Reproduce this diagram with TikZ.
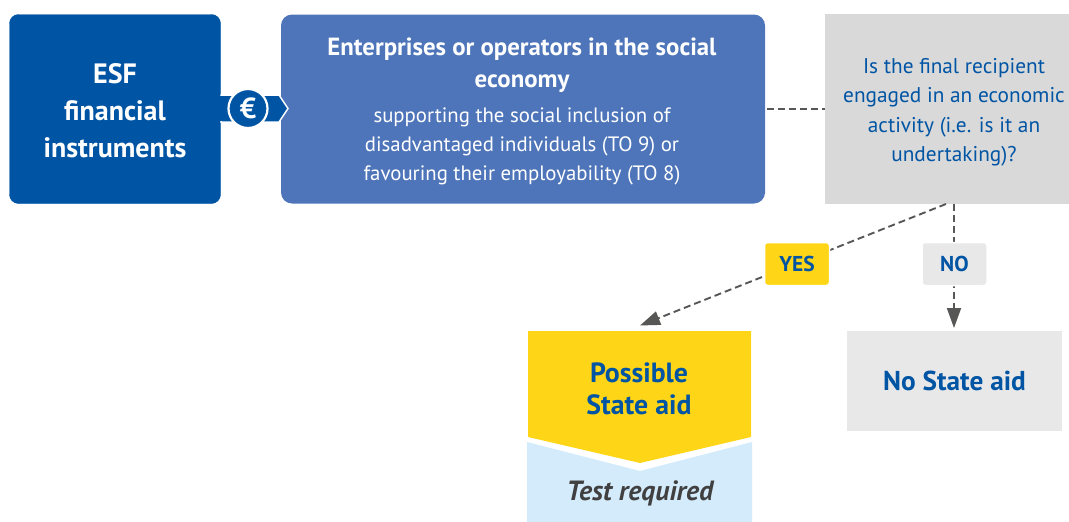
\documentclass[tikz,border=0pt]{standalone}
\usepackage{fontspec}
\setmainfont{PT Sans}
\usetikzlibrary{arrows.meta}
\definecolor{esfblue}{HTML}{0054A4}
\definecolor{midblue}{HTML}{4E75B9}
\definecolor{qgray}{HTML}{D9D9D9}
\definecolor{lgray}{HTML}{E8E8E8}
\definecolor{eyellow}{HTML}{FFD617}
\definecolor{lblue}{HTML}{D3EBFB}
\definecolor{dash}{HTML}{575756}
\tikzset{
  x=1pt,y=-1pt,
  conn/.style={draw=dash,line width=1.9pt,dash pattern=on 7pt off 4pt},
  arrowconn/.style={conn,-{Triangle[length=20pt,width=14pt,fill=dash]}},
  tag/.style={rounded corners=3pt,minimum width=65pt,minimum height=43pt,inner sep=0pt,draw=white,line width=1.5pt,font=\fontsize{21.5}{21.5}\selectfont\bfseries,text=esfblue}
}
\begin{document}
\begin{tikzpicture}
\useasboundingbox (0,0) rectangle (1069,522);
\node[fill=esfblue,draw=esfblue,rounded corners=9pt,minimum width=211pt,minimum height=189pt,inner sep=0pt] (esf) at (115,109) {};
\node[text=white,align=center,inner sep=0pt,font=\fontsize{28}{37}\selectfont\bfseries] (esft) at (115,111) {ESF\\financial\\instruments};
\node[fill=midblue,rounded corners=11pt,minimum width=484pt,minimum height=189pt,inner sep=0pt] (ent) at (523,109) {};
% connector tab with euro
\fill[esfblue,draw=white,line width=1.5pt] (221,95) -- (279,95) -- (288,108.5) -- (279,122) -- (221,122) -- cycle;
\fill[esfblue] (219,95.7) rectangle (222,121.3);
\node[circle,fill=esfblue,draw=white,line width=2.2pt,minimum size=39pt,inner sep=0pt,text=white,font=\fontsize{29}{29}\selectfont\bfseries] (euro) at (248,108.5) {€};
\node[text=white,align=center,inner sep=0pt,font=\fontsize{24.8}{32}\selectfont\bfseries] (entt) at (522,65) {Enterprises or operators in the social\\economy};
\node[text=white,align=center,inner sep=0pt,font=\fontsize{20.8}{29}\selectfont] (ents) at (522,146) {supporting the social inclusion of\\disadvantaged individuals (TO 9) or\\favouring their employability (TO 8)};
\node[fill=qgray,minimum width=244pt,minimum height=190pt,inner sep=0pt] (q) at (947,109) {};
\node[text=esfblue,align=center,inner sep=0pt,font=\fontsize{21.3}{29.5}\selectfont] (qt) at (954,112.5) {Is the final recipient\\engaged in an economic\\activity (i.e. is it an\\undertaking)?};
\draw[conn] (ent.east) ++(2,0) -- (q.west);
% result boxes
\fill[lblue] (527,442) -- (640,471) -- (752,442) -- (752,522) -- (527,522) -- cycle;
\fill[eyellow] (528,331) -- (751,331) -- (751,437) -- (640,463) -- (528,437) -- cycle;
\coordinate (pos) at (640,325.5);
\node[text=esfblue,align=center,inner sep=0pt,font=\fontsize{27.8}{32}\selectfont\bfseries] (post) at (639,389) {Possible\\State aid};
\node[text=black!75,inner sep=0pt,font=\fontsize{27.8}{27.8}\selectfont\bfseries\itshape] (test) at (640,493) {Test required};
\node[fill=lgray,minimum width=215pt,minimum height=100pt,inner sep=0pt,text=esfblue,font=\fontsize{27.3}{27.3}\selectfont\bfseries] (no) at (954.5,381) {\raisebox{-1pt}{No State aid}};
\coordinate (qy) at (946,204);
\coordinate (qn) at (954,204);
\coordinate (non) at (954,328);
\draw[arrowconn] (qy) -- (pos);
\draw[arrowconn] (qn) -- (non);
\node[tag,fill=eyellow] (yes) at (797,264) {\raisebox{-0.5pt}{YES}};
\node[tag,fill=lgray] (nol) at (954.5,264) {\raisebox{-0.5pt}{NO}};
\end{tikzpicture}
\end{document}
